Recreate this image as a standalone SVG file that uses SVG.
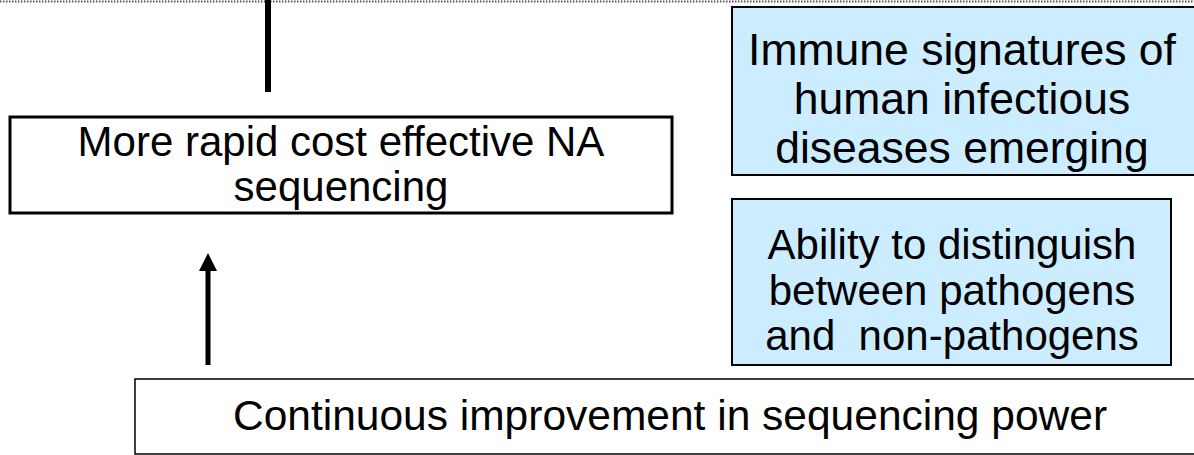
<svg xmlns="http://www.w3.org/2000/svg" width="1194" height="455" viewBox="0 0 1194 455">
<style>
text{font-family:"Liberation Sans",Arial,sans-serif;font-size:42px;fill:#000;text-anchor:middle}
.big{font-size:44.5px}
.box{fill:#fff;stroke:#000}
.blue{fill:#CCECFF;stroke:#000}
</style>
<rect width="1194" height="455" fill="#fff"/>
<line x1="0" y1="1.5" x2="1194" y2="1.5" stroke="#555" stroke-width="2" stroke-dasharray="1.5,1.5"/>
<g id="connectors">
<line x1="268" y1="0" x2="268" y2="92" stroke="#000" stroke-width="6"/>
<line x1="208" y1="365" x2="208" y2="270" stroke="#000" stroke-width="5"/>
<path d="M199,271L208,253L217,271z" fill="#000"/>
</g>
<g id="immune">
<rect class="blue" x="732" y="7" width="470" height="168" stroke-width="2"/>
<text class="big" x="962" y="65">Immune signatures of</text>
<text class="big" x="962" y="114">human infectious</text>
<text class="big" x="962" y="163">diseases emerging</text>
</g>
<g id="rapid">
<rect class="box" x="10" y="117" width="662" height="96" stroke-width="3"/>
<text x="341" y="156">More rapid cost effective NA</text>
<text x="341" y="201">sequencing</text>
</g>
<g id="ability">
<rect class="blue" x="732" y="199" width="439" height="166" stroke-width="2"/>
<text x="952" y="259">Ability to distinguish</text>
<text x="952" y="305">between pathogens</text>
<text x="952" y="350" xml:space="preserve">and  non-pathogens</text>
</g>
<g id="continuous">
<rect class="box" x="135" y="379" width="1070" height="75" stroke-width="1.5"/>
<text x="670" y="430" style="font-size:42.5px">Continuous improvement in sequencing power</text>
</g>
</svg>
